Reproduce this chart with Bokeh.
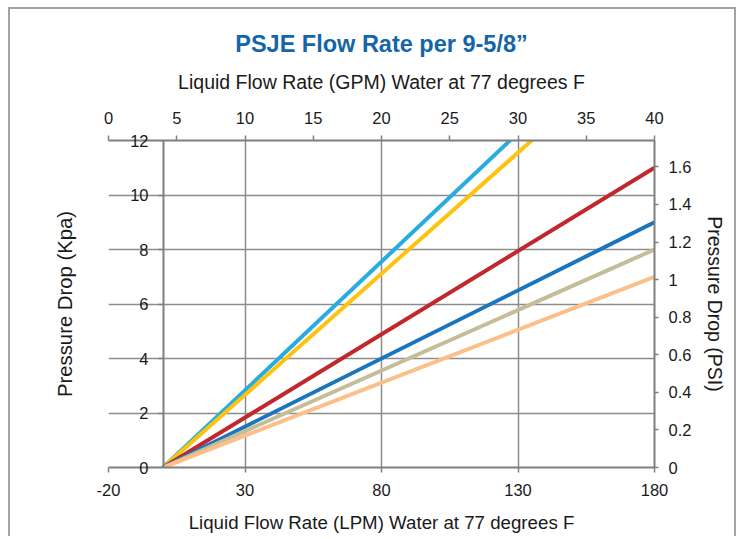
from bokeh.plotting import figure
from bokeh.models import (Range1d, LinearAxis, FixedTicker, Grid,
                          CustomJSTickFormatter, ColumnDataSource)
from bokeh.embed import file_html
from bokeh.resources import INLINE

# ---------------- data ----------------
lpm = [0, 180]                       # flow rate (LPM) endpoints of each series
cyan_kpa = [0, 17]
gold_kpa = [0, 16]
red_kpa = [0, 11]
blue_kpa = [0, 9]
tan_kpa = [0, 8]
peach_kpa = [0, 7]

lpm_ticks = [-20, 30, 80, 130, 180]
gpm_ticks = [0, 5, 10, 15, 20, 25, 30, 35, 40]
kpa_ticks = [0, 2, 4, 6, 8, 10, 12]
psi_ticks = [0, 0.2, 0.4, 0.6, 0.8, 1.0, 1.2, 1.4, 1.6]

KPA_TO_PSI = 0.1450377

# ---------------- styles ----------------
FONT = "Liberation Sans"
GRID = "#8c8c8c"
AXIS = "#7f7f7f"
TXT = "#1a1a1a"
TICK_SIZE = "16.5px"

W, H = 728, 529
p = figure(width=W, height=H, output_backend="svg", toolbar_location=None,
           x_range=Range1d(-20, 180), y_range=Range1d(0, 12),
           x_axis_location=None, y_axis_location=None,
           min_border_left=98, min_border_right=84,
           min_border_top=131, min_border_bottom=71,
           title="PSJE Flow Rate per 9-5/8\u201d")
p.grid.visible = False
p.styles = {"margin-left": "8px", "margin-top": "7px",
            "border-top": "2px solid #a3a3a3",
            "border-left": "2px solid #a3a3a3",
            "border-right": "2px solid #a3a3a3"}
p.outline_line_color = None
p.background_fill_color = "white"
p.border_fill_color = "white"

p.title.align = "center"
p.title.text_font = FONT
p.title.text_font_style = "bold"
p.title.text_font_size = "23.5px"
p.title.text_color = "#1565a9"
p.title.standoff = 22

p.extra_x_ranges = {"gpm": Range1d(0, 40)}
p.extra_y_ranges = {"psi": Range1d(0, 12 * KPA_TO_PSI)}

plain = "return tick.toFixed(1).replace(/\\.0$/, '')"


def style_axis(ax, label_size=TICK_SIZE):
    ax.axis_line_color = AXIS
    ax.axis_line_width = 2
    ax.major_tick_line_color = AXIS
    ax.major_tick_line_width = 1.5
    ax.major_tick_in = 0
    ax.major_tick_out = 5
    ax.minor_tick_line_color = None
    ax.major_label_text_font = FONT
    ax.major_label_text_font_size = label_size
    ax.major_label_text_color = TXT
    ax.axis_label_text_font = FONT
    ax.axis_label_text_font_style = "normal"
    ax.axis_label_text_color = TXT


# bottom LPM axis
bottom = LinearAxis(ticker=FixedTicker(ticks=lpm_ticks),
                    formatter=CustomJSTickFormatter(code=plain),
                    axis_label="Liquid Flow Rate (LPM) Water at 77 degrees F")
style_axis(bottom)
bottom.major_label_standoff = 11
bottom.axis_label_standoff = 13
bottom.axis_label_text_font_size = "18.7px"
p.add_layout(bottom, "below")

# top GPM axis
top = LinearAxis(x_range_name="gpm", ticker=FixedTicker(ticks=gpm_ticks),
                 formatter=CustomJSTickFormatter(code=plain),
                 axis_label="Liquid Flow Rate (GPM) Water at 77 degrees F")
style_axis(top)
top.major_label_standoff = 12
top.axis_label_standoff = 16
top.axis_label_text_font_size = "19.5px"
p.add_layout(top, "above")

# right PSI axis
right = LinearAxis(y_range_name="psi", ticker=FixedTicker(ticks=psi_ticks),
                   axis_label="Pressure Drop (PSI)",
                   formatter=CustomJSTickFormatter(code=plain))
style_axis(right)
right.major_tick_out = 4
right.major_label_standoff = 10
right.axis_label_standoff = 10
right.axis_label_text_font_size = "19.5px"
p.add_layout(right, "right")

# left Kpa axis: labels pulled inward next to the LPM = 0 line
left = LinearAxis(ticker=FixedTicker(ticks=kpa_ticks),
                  formatter=CustomJSTickFormatter(code=plain),
                  axis_label="Pressure Drop (Kpa)")
style_axis(left)
left.axis_line_color = None
left.major_tick_line_color = None
left.major_tick_out = 0
left.major_label_standoff = -40
left.axis_label_standoff = 51
left.axis_label_text_font_size = "20.3px"
p.add_layout(left, "left")

# axis line (with ticks) at LPM = 0
kpa = LinearAxis(ticker=FixedTicker(ticks=kpa_ticks), fixed_location=0)
style_axis(kpa)
kpa.major_label_text_color = None
p.add_layout(kpa, "left")

# grids
p.add_layout(Grid(dimension=0, ticker=FixedTicker(ticks=lpm_ticks),
                  grid_line_color=GRID, grid_line_width=1.5))
p.add_layout(Grid(dimension=1, ticker=FixedTicker(ticks=kpa_ticks),
                  grid_line_color=GRID, grid_line_width=1.5))

# series
series = [
    (cyan_kpa, "#29abe2"),
    (gold_kpa, "#ffc20e"),
    (red_kpa, "#c1272d"),
    (blue_kpa, "#1c75bc"),
    (tan_kpa, "#c4bd97"),
    (peach_kpa, "#fbbf8a"),
]
for vals, col in series:
    src = ColumnDataSource(dict(x=lpm, y=vals))
    p.line("x", "y", source=src, line_color=col, line_width=4)

open("out.html", "w").write(file_html(p, INLINE))
